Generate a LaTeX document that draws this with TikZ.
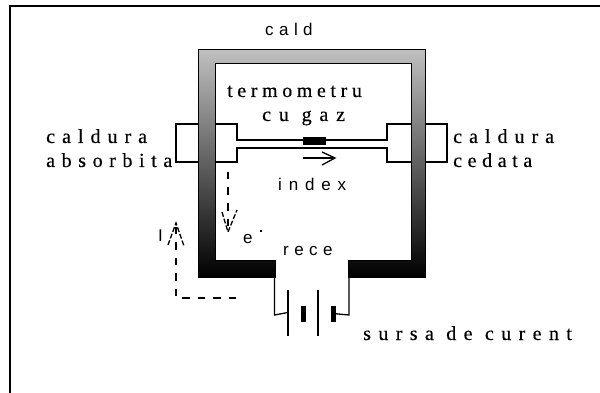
\documentclass[tikz,border=0pt]{standalone}
\usepackage{fontspec}
\setmainfont[FakeBold=0.4]{Liberation Serif}
\setsansfont{Liberation Sans}
\usepackage{tikz}
\tikzset{
    serifnote/.style ={
        font=\rmfamily\fontsize{20}{20}\selectfont\addfontfeature{LetterSpace=#1},
        inner sep=0pt,
        anchor=base west
    },
    sansnote/.style ={
        font=\sffamily\fontsize{17}{17}\selectfont\addfontfeature{LetterSpace=#1},
        inner sep=0pt,
        anchor=base west
    },
    wire/.style ={
        draw=black,
        line width=1.3pt
    },
    plate/.style ={
        draw=black,
        fill=black,
        line width=0.5pt,
        inner sep=0pt
    },
    current/.style ={
        draw=black,
        line width=1.3pt,
        dash pattern=on 7.5pt off 8pt
    },
    barb/.style ={
        draw=black,
        line width=1.3pt,
        dash pattern=on 5pt off 2pt
    }
}

\begin{document}
\begin{tikzpicture}[x=1pt,y=-1pt]
    \useasboundingbox (0,0) rectangle (600,393);
    \draw[line width=1.3pt] (10,393) -- (10,6) -- (600,6);
    \shade[draw=black,line width=1pt,top color=black!25,bottom color=black]
        (198,50) -- (425,50) -- (425,277) -- (348,277) -- (348,260) -- (411,260)
        -- (411,64) -- (215,64) -- (215,260) -- (275,260) -- (275,277) -- (198,277) -- cycle;
    \coordinate (abs1) at(198,124);
    \coordinate (abs2) at(198,162);
    \coordinate (ced1) at(425,124);
    \coordinate (ced2) at(425,162);
    \coordinate (tub1) at(215,124);
    \coordinate (tub2) at(215,162);
    \coordinate (tub3) at(411,124);
    \coordinate (tub4) at(411,162);
    \draw[wire] (abs1) -- (176,124) -- (176,162) -- (abs2);
    \draw[wire] (ced1) -- (447,124) -- (447,162) -- (ced2);
    \draw[wire] (tub1) -- (237,124) -- (237,140) -- (387,140) -- (387,124) -- (tub3);
    \draw[wire] (tub2) -- (237,162) -- (237,148) -- (387,148) -- (387,162) -- (tub4);
    \node[plate,minimum width=22pt,minimum height=7pt] (bead) at(314,140.5) {};
    \coordinate (flow1) at(303,158);
    \coordinate (flow2) at(335,158);
    \draw[wire] (flow1) -- (flow2);
    \draw[wire] (322,152) -- (flow2) -- (322,165);
    \coordinate (lead1) at(274.5,277);
    \coordinate (lead2) at(349,277);
    \node[plate,minimum width=1.3pt,minimum height=45pt] (cell1) at(288,312.5) {};
    \node[plate,minimum width=4pt,minimum height=15pt] (cell2) at(303,313.5) {};
    \node[plate,minimum width=1.3pt,minimum height=45pt] (cell3) at(318,312.5) {};
    \node[plate,minimum width=4pt,minimum height=15pt] (cell4) at(333,313.5) {};
    \draw[wire] (lead1) -- (274.5,315) -- (cell1.center);
    \draw[wire] (lead2) -- (349,315) -- (cell4.center);
    \coordinate (elec1) at(228,172);
    \coordinate (elec2) at(228,232);
    \draw[current] (elec1) -- (elec2);
    \draw[barb] (222,212) -- (elec2) -- (237,210);
    \coordinate (curr1) at(236,298);
    \coordinate (curr2) at(176,298);
    \coordinate (curr3) at(176,223);
    \draw[current] (curr1) -- (curr2) -- (curr3);
    \draw[barb] (168,245) -- (curr3) -- (184,246);
    \node[sansnote=32] (cald) at(265,36) {cald};
    \node[serifnote=23] (termo) at(227,97) {termometru};
    \node[serifnote=39] (cugaz) at(262,121) {cu gaz};
    \node[serifnote=35] (absa) at(46,143) {caldura};
    \node[serifnote=33] (absb) at(46,167) {absorbita};
    \node[serifnote=35] (ceda) at(453,143) {caldura};
    \node[serifnote=28] (cedb) at(453,167) {cedata};
    \node[sansnote=40] (index) at(278,190) {index};
    \node[sansnote=0] (curr) at(158,241) {I};
    \node[sansnote=0] (elec) at(243,243) {e};
    \node[plate,minimum width=1.5pt,minimum height=1.5pt] (minus) at(260.5,230.5) {};
    \node[sansnote=32] (rece) at(283,255) {rece};
    \node[serifnote=37] (sursa) at(363,340) {sursa de curent};
\end{tikzpicture}
\end{document}
